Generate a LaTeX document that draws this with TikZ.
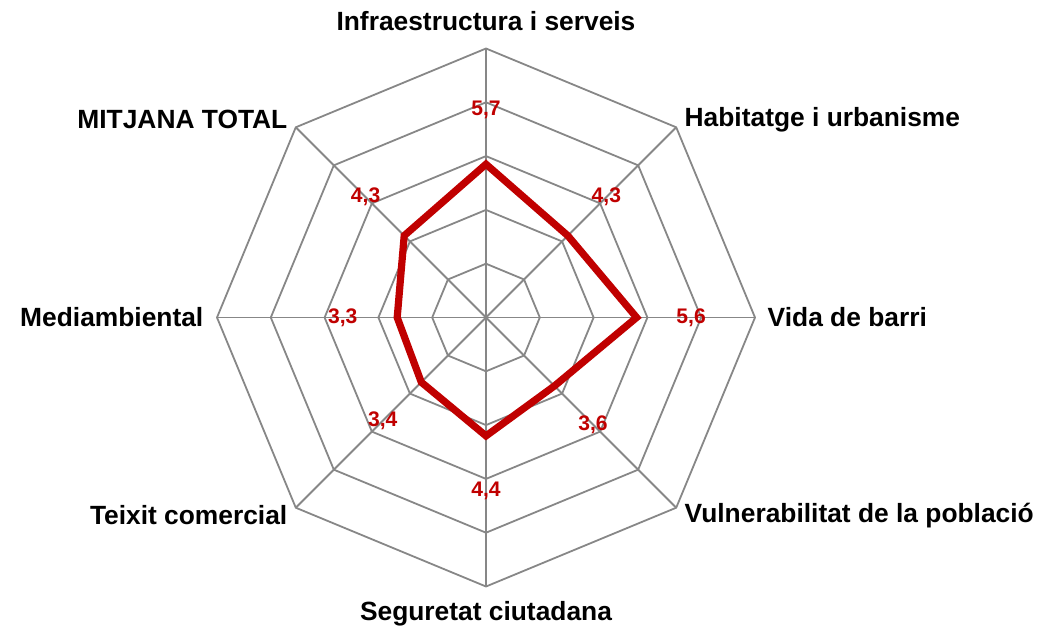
\documentclass[tikz,border=0pt]{standalone}
\usepackage{fontspec}
\setmainfont{Liberation Sans}
\usepackage{tikz}
\usetikzlibrary{calc}
\definecolor{valor}{RGB}{192,0,0}
\tikzset{
	reixa/.style={line width=0.18mm, color=black!47},
	eix/.style={inner sep=0pt, font=\fontsize{7.5}{9}\selectfont\bfseries},
	dada/.style={inner sep=0pt, color=valor, font=\fontsize{6}{7}\selectfont\bfseries}
}

\begin{document}
\begin{tikzpicture}
		%%%%% START %%%%%
		\useasboundingbox (-4.86, -3.145) rectangle (5.57, 3.175);
		\coordinate (c) at (0, 0);
		
		\draw[reixa] (90:0.538) -- (45:0.538) -- (0:0.538) -- (-45:0.538) -- (-90:0.538) -- (-135:0.538) -- (180:0.538) -- (135:0.538) -- cycle;
		\draw[reixa] (90:1.076) -- (45:1.076) -- (0:1.076) -- (-45:1.076) -- (-90:1.076) -- (-135:1.076) -- (180:1.076) -- (135:1.076) -- cycle;
		\draw[reixa] (90:1.614) -- (45:1.614) -- (0:1.614) -- (-45:1.614) -- (-90:1.614) -- (-135:1.614) -- (180:1.614) -- (135:1.614) -- cycle;
		\draw[reixa] (90:2.152) -- (45:2.152) -- (0:2.152) -- (-45:2.152) -- (-90:2.152) -- (-135:2.152) -- (180:2.152) -- (135:2.152) -- cycle;
		\draw[reixa] (90:2.69) -- (45:2.69) -- (0:2.69) -- (-45:2.69) -- (-90:2.69) -- (-135:2.69) -- (180:2.69) -- (135:2.69) -- cycle;
		
		\draw[reixa] (c) -- (90:2.69);
		\draw[reixa] (c) -- (45:2.69);
		\draw[reixa] (c) -- (0:2.69);
		\draw[reixa] (c) -- (-45:2.69);
		\draw[reixa] (c) -- (-90:2.69);
		\draw[reixa] (c) -- (-135:2.69);
		\draw[reixa] (c) -- (180:2.69);
		\draw[reixa] (c) -- (135:2.69);
		
		\draw[line width=0.72mm, color=valor] (90:1.533) -- (45:1.157) -- (0:1.506) -- (-45:0.968) -- (-90:1.184) -- (-135:0.915) -- (180:0.888) -- (135:1.157) -- cycle;
		
		\node[dada] (dInfra) at (90:2.078) {5,7};
		\node[dada] (dHabitatge) at (45:1.702) {4,3};
		\node[dada] (dVida) at (0:2.051) {5,6};
		\node[dada] (dVulnerabilitat) at (-45:1.513) {3,6};
		\node[dada] (dSeguretat) at (-90:1.729) {4,4};
		\node[dada] (dTeixit) at (-135:1.460) {3,4};
		\node[dada] (dMedi) at (180:1.433) {3,3};
		\node[dada] (dMitjana) at (135:1.702) {4,3};
		
		\node[eix] (infra) at (90:2.965) {Infraestructura i serveis};
		\node[eix, anchor=west] (habitatge) at (45:2.80) {Habitatge i urbanisme};
		\node[eix, anchor=west] (vida) at (0:2.81) {Vida de barri};
		\node[eix, anchor=west] (vulnerabilitat) at (-45:2.80) {Vulnerabilitat de la població};
		\node[eix] (seguretat) at (-90:2.965) {Seguretat ciutadana};
		\node[eix, anchor=east] (teixit) at (-135:2.80) {Teixit comercial};
		\node[eix, anchor=east] (medi) at (180:2.82) {Mediambiental};
		\node[eix, anchor=east] (mitjana) at (135:2.80) {MITJANA TOTAL};
		
		%%%%% END %%%%%
\end{tikzpicture}
\end{document}
